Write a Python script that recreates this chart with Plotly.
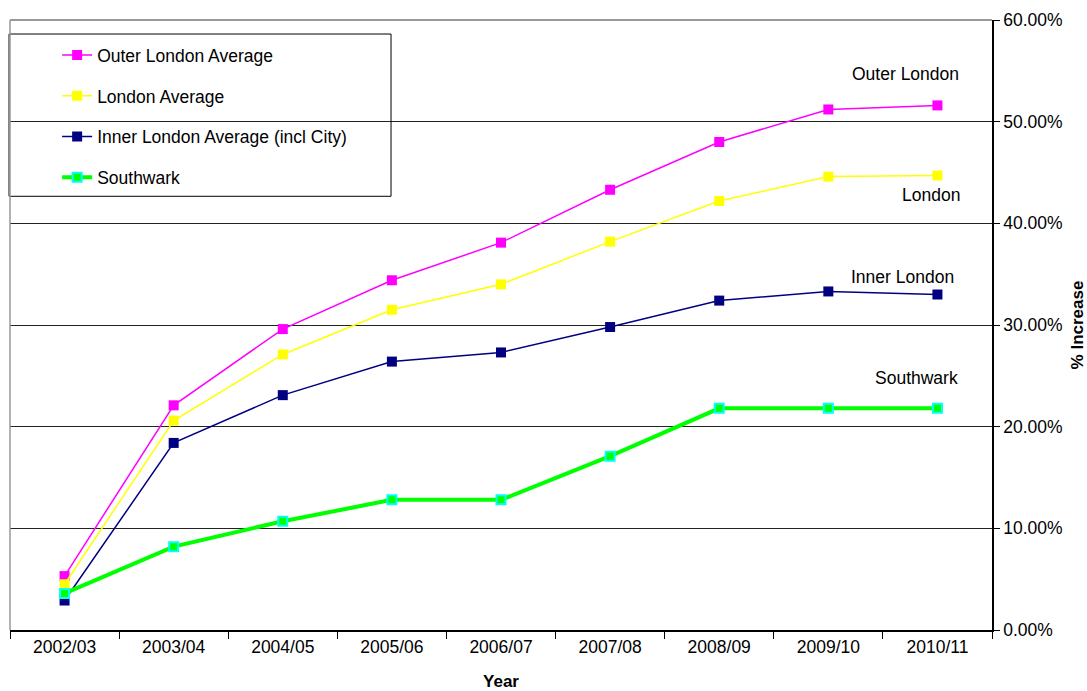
import plotly.graph_objects as go

years = ["2002/03", "2003/04", "2004/05", "2005/06", "2006/07", "2007/08", "2008/09", "2009/10", "2010/11"]
outer_london = [5.3, 22.1, 29.6, 34.4, 38.1, 43.3, 48.0, 51.2, 51.6]
london_avg = [4.5, 20.6, 27.1, 31.5, 34.0, 38.2, 42.2, 44.6, 44.7]
inner_london = [2.9, 18.4, 23.1, 26.4, 27.3, 29.8, 32.4, 33.3, 33.0]
southwark = [3.6, 8.2, 10.7, 12.8, 12.8, 17.1, 21.8, 21.8, 21.8]

FONT = "Liberation Sans, Arial, sans-serif"

fig = go.Figure()
series = [
    ("Outer London Average", outer_london, "#FF00FF", 1.5, "#FF00FF", "#FF00FF", 0),
    ("London Average", london_avg, "#FFFF00", 1.5, "#FFFF00", "#FFFF00", 0),
    ("Inner London Average (incl City)", inner_london, "#000080", 1.5, "#000080", "#000080", 0),
    ("Southwark", southwark, "#00FF00", 4, "#00FF00", "#00FFFF", 2),
]
for i, (name, vals, lc, lw, mc, mlc, mlw) in enumerate(series):
    fig.add_trace(go.Scatter(
        x=years, y=vals, name=name, mode="lines+markers",
        line=dict(color=lc, width=lw),
        marker=dict(symbol="square", size=10 if mlw == 0 else 9, color=mc,
                    line=dict(color=mlc, width=mlw)),
        legendgroup="g%d" % i,
    ))

labels = [("Outer London", 54.7, -32), ("London", 42.8, -6), ("Inner London", 34.7, -35), ("Southwark", 24.8, -21)]
for text, yv, xs in labels:
    fig.add_annotation(x=years[-1], y=yv, xref="x", yref="y", text=text, showarrow=False,
                       xshift=xs, font=dict(family=FONT, size=17.5, color="black"))

# legend box
fig.add_shape(type="rect", xref="paper", yref="paper", x0=-0.001, x1=0.388, y0=0.711, y1=0.977,
              line=dict(color="black", width=1), fillcolor="rgba(0,0,0,0)", layer="above")
# top gray border and left gray border
fig.add_shape(type="line", xref="paper", yref="paper", x0=0, x1=1, y0=1, y1=1,
              line=dict(color="#999999", width=2), layer="above")
fig.add_shape(type="line", xref="paper", yref="paper", x0=0, x1=0, y0=0, y1=1,
              line=dict(color="#999999", width=1.5), layer="above")

fig.update_layout(
    width=1087, height=691,
    margin=dict(l=10, r=95, t=20, b=61),
    paper_bgcolor="white", plot_bgcolor="white",
    font=dict(family=FONT, size=17.5, color="black"),
    showlegend=True,
    legend=dict(x=0.048, y=0.972, xanchor="left", yanchor="top",
                bgcolor="rgba(0,0,0,0)", borderwidth=0,
                tracegroupgap=15, font=dict(family=FONT, size=17.5, color="black")),
    xaxis=dict(
        type="category", tickson="boundaries", ticks="outside", ticklen=7, tickcolor="black",
        showline=True, linecolor="black", linewidth=1.5, showgrid=False, automargin=False,
        title=dict(text="<b>Year</b>", font=dict(family=FONT, size=17), standoff=25),
        tickfont=dict(family=FONT, size=17.5), range=[-0.5, 8.5],
    ),
    yaxis=dict(
        side="right", range=[0, 60], dtick=10, tickformat=".2f", ticksuffix="%",
        ticks="outside", ticklen=6, tickcolor="black", automargin=False,
        showline=True, linecolor="black", linewidth=1.5,
        showgrid=True, gridcolor="#222222", gridwidth=1, zeroline=False,
        title=dict(text="<b>% Increase</b>", font=dict(family=FONT, size=17), standoff=19),
        tickfont=dict(family=FONT, size=17.5),
    ),
)

fig.write_html("out.html")
